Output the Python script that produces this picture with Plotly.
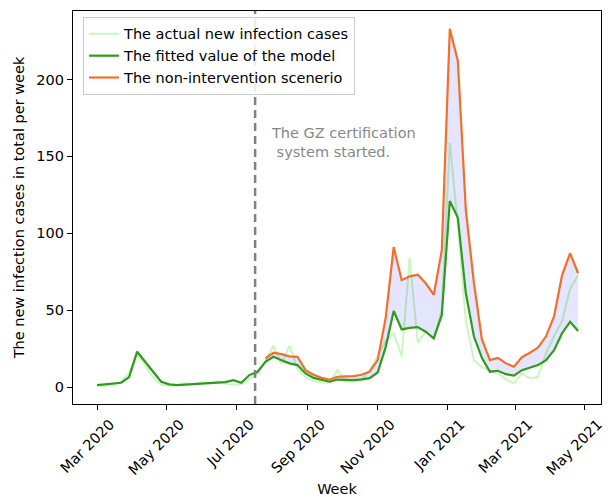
import pandas as pd
import plotly.graph_objects as go

# ---- data ----
weeks = pd.date_range("2020-03-01", periods=61, freq="7D")

actual_cases = [
    1.0, 0.8, 1.2, 3.5, 9, 22, 14, 6, 1.5, 0.8,
    1.5, 2.5, 1.8, 3.2, 2.5, 3.8, 2.2, 1.5, 2.0, 5.5,
    8.5, 17, 27, 15, 27, 12, 6.5, 4, 3, 2.8,
    11, 3.5, 4, 4.5, 11, 20, 30, 35, 20, 84,
    29, 36, 32, 50, 159, 105, 43, 17.5, 13, 11,
    8.8, 5, 2.4, 8.8, 5.6, 6.7, 22, 33, 43, 64, 72.7,
]

fitted_values = [
    1.3, 1.8, 2.2, 2.8, 6.5, 23, 16.5, 10, 3.5, 1.8,
    1.3, 1.6, 2.0, 2.2, 2.6, 3.0, 3.2, 4.5, 2.8, 7.8,
    9.8, 16.4, 19.7, 17.5, 15.4, 14.3, 8.9, 6.0, 4.5, 3.5,
    4.9, 4.7, 4.5, 5.0, 5.8, 9.5, 26, 49.5, 37.5, 38.5,
    39, 36, 31.6, 46.8, 121, 110, 61, 33, 19, 10,
    10.6, 8.4, 7.4, 11, 12.6, 14.3, 17.5, 24, 35, 42.4, 36.4,
]

no_intervention_start = 21  # first week index of the scenario
no_intervention = [
    18.6, 22.3, 21.4, 20, 19.7, 11, 8, 6, 4.8, 6.7,
    7, 7.1, 8, 10, 17.5, 45, 91, 69.5, 72, 73,
    67.5, 60, 89, 233, 212, 115, 68, 31, 17.5, 19,
    15.4, 13.2, 19.5, 22.3, 25.7, 33, 46, 72.7, 87, 74,
]

gz_start_date = "2020-07-17"

tick_dates = ["2020-03-01", "2020-05-01", "2020-07-01", "2020-09-01",
              "2020-11-01", "2021-01-01", "2021-03-01", "2021-05-01"]
tick_labels = ["Mar 2020", "May 2020", "Jul 2020", "Sep 2020",
               "Nov 2020", "Jan 2021", "Mar 2021", "May 2021"]
y_ticks = [0, 50, 100, 150, 200]

# ---- figure ----
FONT = "DejaVu Sans"
FS = 14.5

scen_weeks = weeks[no_intervention_start:]
fitted_tail = fitted_values[no_intervention_start:]

fig = go.Figure()
fig.add_trace(go.Scatter(
    x=weeks, y=actual_cases, mode="lines",
    line=dict(color="rgba(165,242,145,0.6)", width=2),
    name="The actual new infection cases", legendgroup="a"))
fig.add_trace(go.Scatter(
    x=scen_weeks, y=fitted_tail, mode="lines",
    line=dict(color="rgba(0,0,0,0)", width=0),
    showlegend=False, hoverinfo="skip"))
fig.add_trace(go.Scatter(
    x=scen_weeks, y=no_intervention, mode="lines",
    fill="tonexty", fillcolor="rgba(0,0,255,0.1)",
    line=dict(color="rgba(0,0,0,0)", width=0),
    showlegend=False, hoverinfo="skip"))
fig.add_trace(go.Scatter(
    x=weeks, y=fitted_values, mode="lines",
    line=dict(color="#2e9a1e", width=2.2),
    name="The fitted value of the model", legendgroup="b"))
fig.add_trace(go.Scatter(
    x=scen_weeks, y=no_intervention, mode="lines",
    line=dict(color="#f0702a", width=2.2),
    name="The non-intervention scenerio", legendgroup="c"))

fig.add_shape(type="line", xref="x", yref="paper",
              x0=gz_start_date, x1=gz_start_date, y0=0, y1=1,
              line=dict(color="#808080", width=2.5, dash="8px,5px"))

fig.add_annotation(
    x="2020-07-29", y=172, xref="x", yref="y",
    text="The GZ certification<br>\u00a0system started.",
    showarrow=False, xanchor="left", yanchor="top", align="left",
    font=dict(family=FONT, size=FS, color="#888888"))

axis_common = dict(
    showline=True, mirror=True, linecolor="black", linewidth=1.2,
    ticks="outside", ticklen=5, tickwidth=1.2, tickcolor="black",
    showgrid=False, zeroline=False, automargin=False,
    tickfont=dict(family=FONT, size=FS, color="black"),
)

fig.update_layout(
    width=611, height=497,
    margin=dict(l=73, r=10, t=11, b=93),
    paper_bgcolor="white", plot_bgcolor="white",
    font=dict(family=FONT, size=FS, color="black"),
    showlegend=True,
    legend=dict(
        x=0.019, y=0.985, xanchor="left", yanchor="top",
        bgcolor="rgba(255,255,255,0.85)", bordercolor="#cccccc", borderwidth=1,
        font=dict(family=FONT, size=FS, color="black"),
        traceorder="grouped", tracegroupgap=0,
    ),
    xaxis=dict(
        **axis_common,
        type="date",
        range=["2020-02-09", "2021-05-15"],
        tickvals=tick_dates, ticktext=tick_labels,
        tickangle=-45, ticklabelshift=13, ticklabeloverflow="allow",
        title=dict(text="Week", font=dict(family=FONT, size=FS), standoff=8),
    ),
    yaxis=dict(
        **axis_common,
        range=[-11, 244.5],
        tickvals=y_ticks,
        title=dict(text="The new infection cases in total per week",
                   font=dict(family=FONT, size=FS), standoff=8),
    ),
)

fig.write_html(
    "out.html",
    config={"displayModeBar": False},
    post_script="document.body.style.margin='0';document.body.style.padding='0';",
)
